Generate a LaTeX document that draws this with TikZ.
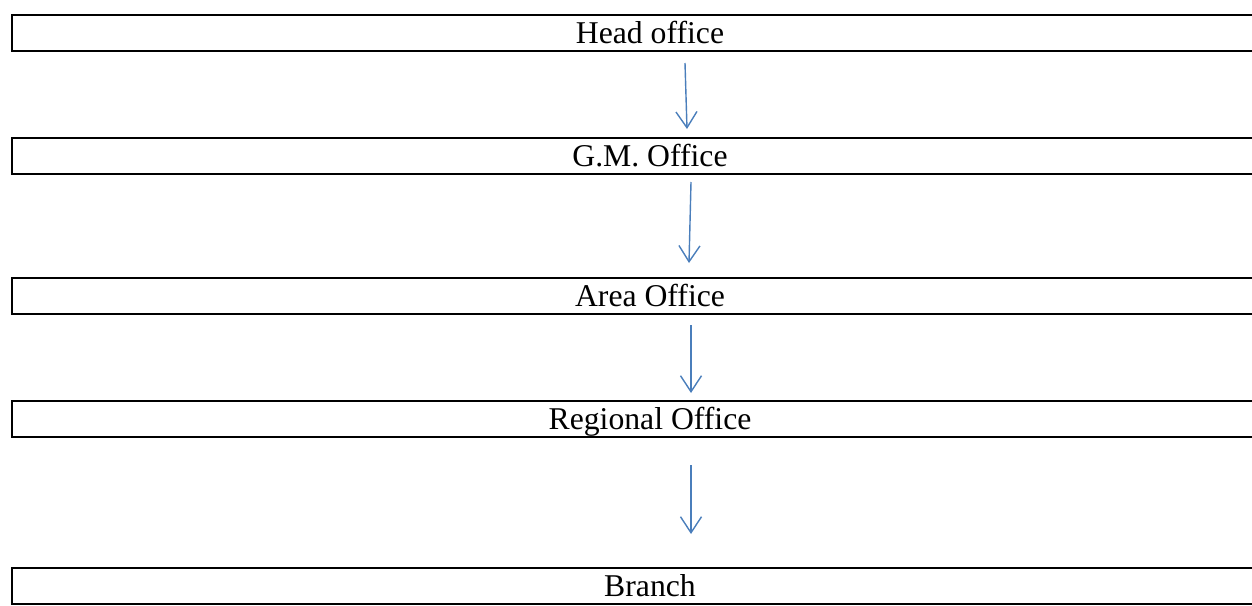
\documentclass[tikz,border=0pt]{standalone}
\usepackage{fontspec}
\setmainfont[Ligatures=NoCommon]{Liberation Serif}
\usepackage{tikz}
\usetikzlibrary{arrows.meta,positioning}
\definecolor{arrowblue}{RGB}{74,126,187}
\tikzstyle{office}=[draw=black, line width=2pt, minimum width=1276pt, minimum height=36pt, inner sep=0pt, text height=20.5pt, text depth=0pt, font=\fontsize{31.7pt}{38pt}\selectfont]
\tikzstyle{flow}=[draw=arrowblue, line width=1.4pt, -{Straight Barb[length=16pt,width=21pt]}]

\begin{document}
\begin{tikzpicture}
%
  \useasboundingbox (0,0) rectangle (1252pt,-605pt);
  \node[office] (1) at (650pt,-33pt) {Head office};
  \node[office] (2) [below=85pt of 1] {G.M. Office};
  \node[office] (3) [below=102pt of 2] {Area Office};
  \node[office] (4) [below=85pt of 3] {Regional Office};
  \node[office] (5) [below=129pt of 4] {Branch};
 \path[every edge/.style={flow}]
	([xshift=35pt,yshift=-11pt]1.south) edge ([xshift=37pt,yshift=8pt]2.north)
	([xshift=41pt,yshift=-7pt]2.south) edge ([xshift=39pt,yshift=14pt]3.north)
	([xshift=41pt,yshift=-10pt]3.south) edge ([xshift=41pt,yshift=7pt]4.north)
	([xshift=41pt,yshift=-27pt]4.south) edge ([xshift=41pt,yshift=33pt]5.north);
%
\end{tikzpicture}
\end{document}
